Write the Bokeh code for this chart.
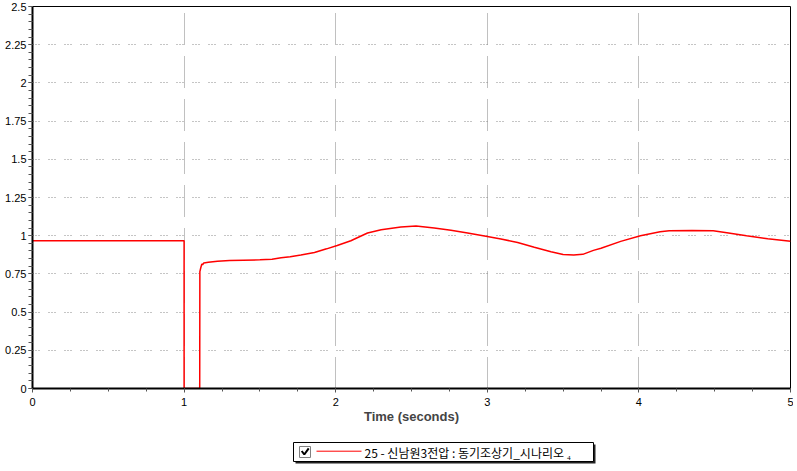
from bokeh.plotting import figure
from bokeh.models import Range1d, FixedTicker
from bokeh.layouts import column
from bokeh.embed import file_html
from bokeh.resources import INLINE
from bokeh.core.properties import value

# ---- data ----
time_s = [0.0, 1.0, 1.0, 1.103, 1.104, 1.11, 1.117, 1.122, 1.13, 1.16, 1.22, 1.30,
          1.39, 1.50, 1.58, 1.64, 1.70, 1.77, 1.86, 1.94, 2.01, 2.10, 2.21, 2.30,
          2.43, 2.53, 2.65, 2.76, 2.87, 3.00, 3.09, 3.20, 3.31, 3.42, 3.50, 3.57,
          3.63, 3.70, 3.75, 3.88, 4.01, 4.14, 4.20, 4.35, 4.49, 4.58, 4.71, 4.85, 5.0]
voltage = [0.967, 0.967, 0.0, 0.0, 0.765, 0.79, 0.815, 0.81, 0.822, 0.826, 0.833, 0.838,
           0.840, 0.842, 0.846, 0.855, 0.862, 0.873, 0.890, 0.914, 0.936, 0.967, 1.018, 1.039,
           1.057, 1.064, 1.050, 1.035, 1.018, 0.995, 0.978, 0.956, 0.925, 0.895, 0.877, 0.873,
           0.878, 0.904, 0.918, 0.963, 1.000, 1.026, 1.032, 1.034, 1.033, 1.020, 1.000, 0.980, 0.963]

x_ticks = [0, 1, 2, 3, 4, 5]
x_minor = [i * 0.25 for i in range(21)]
y_ticks = [0, 0.25, 0.5, 0.75, 1, 1.25, 1.5, 1.75, 2, 2.25, 2.5]
y_tick_labels = ["0", "0.25", "0.5", "0.75", "1", "1.25", "1.5", "1.75", "2", "2.25", "2.5"]
y_minor = [i * 0.05 for i in range(51)]
x_label = "Time (seconds)"
series_label = "25 - 신남원3전압 : 동기조상기_시나리오 ₄"

TICK_FONT = "Liberation Sans"
W = 793

p = figure(width=W, height=438, x_range=Range1d(0, 5), y_range=Range1d(0, 2.5),
           output_backend="svg", toolbar_location=None,
           min_border_left=32, min_border_right=3, min_border_top=6, min_border_bottom=50)
p.background_fill_color = "white"
p.border_fill_color = "white"
p.outline_line_color = "black"
p.outline_line_width = 1

p.line(time_s, voltage, line_color="#ff0000", line_width=1.5)

# axes
p.xaxis.ticker = FixedTicker(ticks=x_ticks, minor_ticks=x_minor)
p.yaxis.ticker = FixedTicker(ticks=y_ticks, minor_ticks=y_minor)
p.yaxis.major_label_overrides = {t: l for t, l in zip(y_ticks, y_tick_labels)}
for ax in (p.xaxis[0], p.yaxis[0]):
    ax.axis_line_color = "black"
    ax.axis_line_width = 2
    ax.major_tick_line_color = "#555555"
    ax.minor_tick_line_color = "#555555"
    ax.major_tick_in = 0
    ax.minor_tick_in = 0
    ax.major_label_text_font = TICK_FONT
    ax.major_label_text_font_size = "11px"
    ax.major_label_text_color = "black"
p.xaxis.major_tick_out = 4
p.xaxis.minor_tick_out = 3
p.xaxis.major_label_standoff = 5
p.yaxis.major_tick_out = 4
p.yaxis.minor_tick_out = 4
p.yaxis.major_label_standoff = 2
p.xaxis.axis_label = x_label
p.xaxis.axis_label_text_font = TICK_FONT
p.xaxis.axis_label_text_font_style = "bold"
p.xaxis.axis_label_text_font_size = "13px"
p.xaxis.axis_label_standoff = 0

# grids
p.xgrid.ticker = FixedTicker(ticks=x_ticks)
p.ygrid.ticker = FixedTicker(ticks=y_ticks)
p.xgrid.grid_line_color = "#808080"
p.xgrid.grid_line_dash = " ".join(["1"] * 31) + " 12"
p.xgrid.grid_line_width = 1
p.ygrid.grid_line_color = "#8a8a8a"
p.ygrid.grid_line_dash = "1 2 1 2 1 9"
p.ygrid.grid_line_width = 1

# ---- legend panel ----
lg = figure(width=W, height=26, x_range=Range1d(0, W), y_range=Range1d(0, 26),
            output_backend="svg", toolbar_location=None, min_border=0,
            x_axis_location=None, y_axis_location=None)
lg.grid.visible = False
lg.outline_line_color = None
lg.background_fill_color = "white"
lg.border_fill_color = "white"
for fig in (p, lg):
    if "frame_align" in fig.properties():
        fig.frame_align = False
# shadow + box
lg.quad(left=[295], right=[595], bottom=[1], top=[20], fill_color="#222222", line_color=None)
lg.quad(left=[293], right=[593], bottom=[3], top=[22], fill_color="white", line_color="black", line_width=1)
# checkbox
lg.quad(left=[299], right=[310], bottom=[7], top=[18], fill_color="white", line_color="#808080", line_width=1)
lg.line([301.2, 303.8, 308.2], [13.5, 10.0, 16.2], line_color="black", line_width=2)
# swatch
lg.line([316, 361], [13.3, 13.3], line_color="#ff0000", line_width=1)
lg.text(x=[364], y=[12.5], text=[series_label], text_font=value("Noto Sans CJK KR"),
        text_font_size="12px", text_baseline="middle", text_align="left", text_color="black")

layout = column(p, lg, spacing=0)
open("out.html", "w").write(file_html(layout, INLINE))
